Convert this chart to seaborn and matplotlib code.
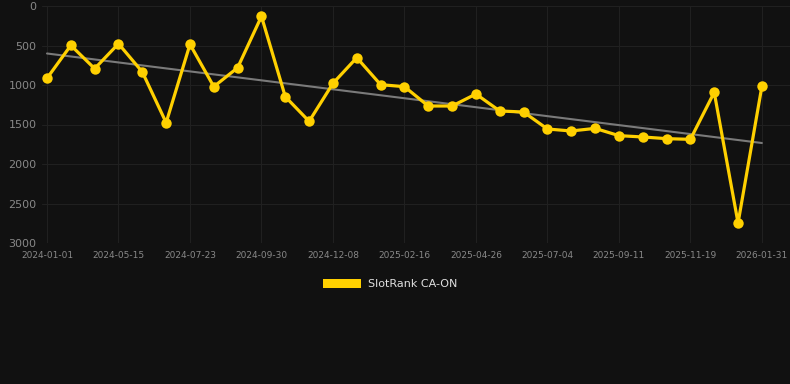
import numpy as np
import pandas as pd
import matplotlib
matplotlib.use("Agg")
import matplotlib.pyplot as plt
from matplotlib.patches import Patch
import seaborn as sns

# ranks (31 evenly spaced samples)
ranks = [915, 498, 793, 477, 835, 1477, 485, 1021, 781, 131,
         1148, 1460, 979, 654, 996, 1021, 1266, 1266, 1114, 1329,
         1342, 1557, 1582, 1549, 1641, 1658, 1679, 1688, 1093, 2747,
         1017]
tick_labels = ["2024-01-01", "2024-05-15", "2024-07-23", "2024-09-30",
               "2024-12-08", "2025-02-16", "2025-04-26", "2025-07-04",
               "2025-09-11", "2025-11-19", "2026-01-31"]
series_name = "SlotRank CA-ON"

df = pd.DataFrame({"idx": np.arange(len(ranks)), "rank": ranks})

sns.set_theme(style="dark")
plt.rcParams["font.family"] = ["DejaVu Sans"]

bg = "#111111"
fig = plt.figure(figsize=(7.9, 3.84), dpi=100, facecolor=bg)
ax = fig.add_axes([42 / 790, 1 - 243 / 384, 748 / 790, 237 / 384])
ax.set_facecolor(bg)

# trend line from a linear fit of the same values
coef = np.polyfit(df["idx"], df["rank"], 1)
ax.plot(df["idx"], np.polyval(coef, df["idx"]), color="#7a7a7a", lw=1.5, zorder=2)

sns.lineplot(data=df, x="idx", y="rank", ax=ax, color="#FFD000", lw=2.3,
             marker="o", markersize=7.5, markeredgewidth=0, zorder=3)

ax.set_xlim(-0.21, 31.18)
ax.set_ylim(3000, 0)
ax.set_yticks(range(0, 3001, 500))
ax.set_xticks(range(0, len(ranks), 3))
ax.set_xticklabels(tick_labels)
ax.tick_params(axis="y", colors="#888888", labelsize=8, length=0, pad=4)
ax.tick_params(axis="x", colors="#888888", labelsize=6.5, length=0, pad=6)
ax.set_xlabel("")
ax.set_ylabel("")
ax.grid(True, color="#202020", lw=0.8)
for s in ax.spines.values():
    s.set_visible(False)

fig.legend(handles=[Patch(facecolor="#FFD000", edgecolor="none", label=series_name)],
           loc="center", bbox_to_anchor=(390 / 790, 1 - 284 / 384),
           frameon=False, fontsize=8, labelcolor="#e0e0e0",
           handlelength=3.4, handleheight=0.9, handletextpad=0.6)

fig.savefig("out.png", dpi=100, facecolor=bg)
